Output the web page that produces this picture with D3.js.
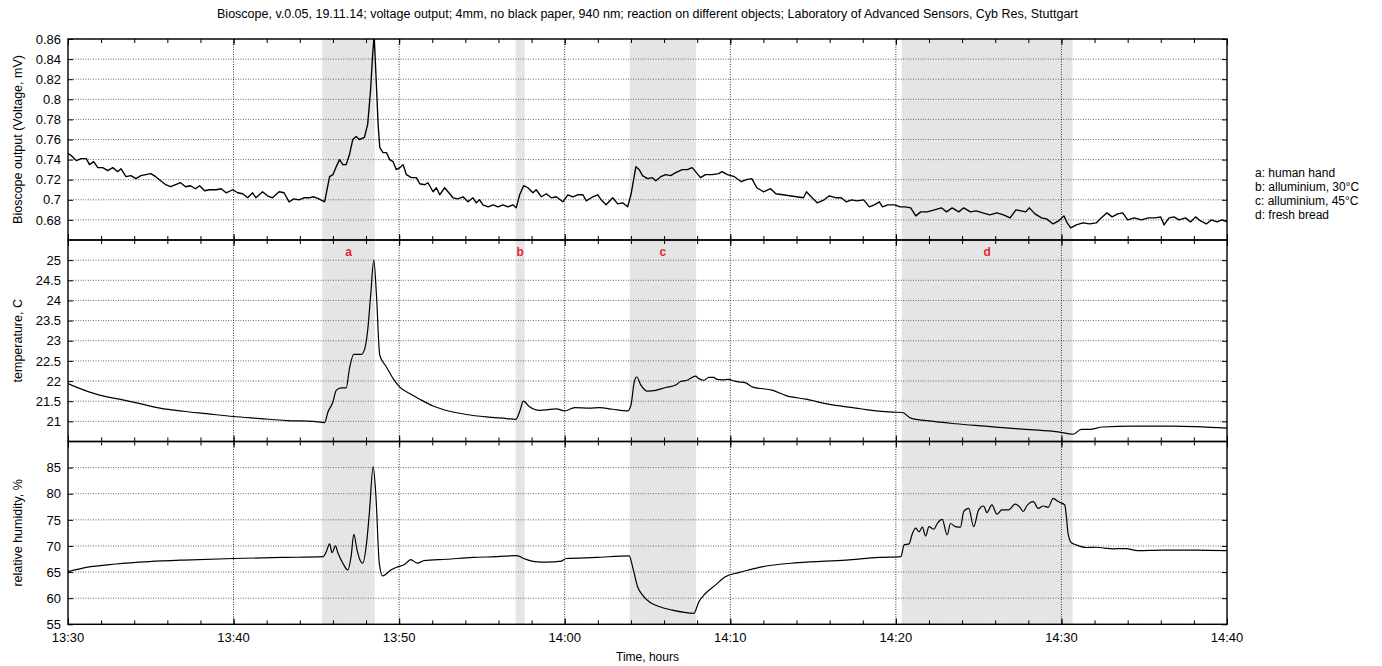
<!DOCTYPE html>
<html>
<head>
<meta charset="utf-8">
<script src="https://cdn.jsdelivr.net/npm/d3@7"></script>
<style>
    body { margin: 0; background: #fff; }
    svg { font-family: "Liberation Sans", Arial, sans-serif; }
    .domain { display: none; }
</style>
</head>
<body>
<svg id="chart" width="1382" height="666"></svg>
<script>
// readings: [minutes after 13:30, value]
const voltageReadings = [
    [0,0.746],[0.2,0.744],[0.5,0.739],[0.8,0.741],[1.1,0.741],[1.3,0.735],[1.55,0.738],[1.8,0.732],
    [2.1,0.732],[2.4,0.729],[2.7,0.732],[3.0,0.728],[3.2,0.731],[3.5,0.723],[3.8,0.724],[4.1,0.721],
    [4.4,0.724],[4.7,0.725],[5.0,0.726],[5.3,0.723],[5.6,0.719],[5.9,0.715],[6.2,0.713],[6.5,0.715],
    [6.8,0.717],[7.1,0.713],[7.4,0.714],[7.7,0.711],[7.95,0.714],[8.25,0.709],[8.55,0.710],[8.95,0.710],
    [9.25,0.711],[9.55,0.707],[9.95,0.710],[10.25,0.707],[10.55,0.706],[10.85,0.702],[11.15,0.707],
    [11.35,0.702],[11.75,0.708],[12.05,0.704],[12.35,0.702],[12.75,0.708],[13.05,0.707],[13.35,0.698],
    [13.65,0.701],[13.95,0.700],[14.25,0.702],[14.55,0.702],[14.85,0.703],[15.15,0.701],[15.5,0.698],
    [15.8,0.723],[16.0,0.725],[16.2,0.733],[16.4,0.740],[16.6,0.735],[16.8,0.735],[17.0,0.745],
    [17.2,0.760],[17.4,0.763],[17.6,0.760],[17.9,0.762],[18.1,0.775],[18.27,0.808],[18.39,0.842],
    [18.49,0.864],[18.59,0.828],[18.73,0.775],[18.83,0.752],[19.03,0.747],[19.23,0.747],[19.43,0.740],
    [19.63,0.738],[19.83,0.730],[20.04,0.732],[20.24,0.735],[20.44,0.725],[20.74,0.722],[21.04,0.722],
    [21.24,0.716],[21.54,0.715],[21.74,0.717],[22.05,0.708],[22.25,0.712],[22.45,0.705],[22.75,0.712],
    [22.95,0.708],[23.25,0.702],[23.55,0.701],[23.86,0.703],[24.16,0.698],[24.46,0.702],[24.66,0.697],
    [24.86,0.700],[25.06,0.695],[25.37,0.693],[25.67,0.695],[25.97,0.693],[26.27,0.695],[26.57,0.693],
    [26.87,0.695],[27.07,0.692],[27.28,0.705],[27.52,0.714],[27.78,0.712],[28.08,0.707],[28.28,0.710],
    [28.59,0.703],[28.89,0.706],[29.19,0.702],[29.49,0.703],[29.89,0.698],[30.19,0.705],[30.49,0.703],
    [30.79,0.705],[31.1,0.705],[31.3,0.699],[31.7,0.703],[32.0,0.705],[32.2,0.700],[32.5,0.695],
    [32.9,0.702],[33.2,0.696],[33.5,0.697],[33.8,0.693],[34.0,0.705],[34.3,0.733],[34.5,0.730],
    [34.7,0.724],[35.0,0.721],[35.3,0.722],[35.5,0.719],[35.8,0.723],[36.1,0.725],[36.4,0.724],
    [36.7,0.727],[37.1,0.730],[37.4,0.730],[37.7,0.732],[37.9,0.728],[38.2,0.722],[38.5,0.725],
    [38.9,0.725],[39.3,0.726],[39.5,0.728],[39.83,0.725],[40.25,0.723],[40.67,0.718],[40.98,0.720],
    [41.3,0.721],[41.6,0.712],[42.0,0.708],[42.44,0.711],[42.75,0.706],[43.17,0.705],[43.58,0.704],
    [44.0,0.703],[44.42,0.702],[44.6,0.708],[44.94,0.702],[45.25,0.697],[45.67,0.700],[45.98,0.704],
    [46.4,0.702],[46.7,0.702],[47.0,0.698],[47.33,0.700],[47.65,0.699],[48.06,0.700],[48.4,0.693],
    [48.7,0.695],[49.0,0.698],[49.2,0.693],[49.5,0.695],[49.94,0.695],[50.25,0.693],[50.56,0.693],
    [50.9,0.692],[51.2,0.684],[51.5,0.688],[51.9,0.688],[52.33,0.690],[52.75,0.692],[53.06,0.688],
    [53.4,0.692],[53.8,0.688],[54.1,0.692],[54.5,0.688],[54.85,0.689],[55.25,0.687],[55.67,0.685],
    [56.1,0.687],[56.5,0.685],[56.9,0.682],[57.25,0.690],[57.56,0.689],[57.85,0.688],[58.06,0.692],
    [58.4,0.686],[58.8,0.682],[59.1,0.681],[59.5,0.676],[59.83,0.679],[60.15,0.684],[60.35,0.677],
    [60.56,0.672],[60.9,0.675],[61.3,0.677],[61.7,0.676],[62.1,0.677],[62.4,0.682],[62.75,0.687],
    [63.06,0.683],[63.4,0.686],[63.7,0.687],[64.0,0.680],[64.4,0.682],[64.83,0.680],[65.25,0.682],
    [65.67,0.682],[66.0,0.683],[66.2,0.675],[66.5,0.682],[66.8,0.683],[67.1,0.680],[67.5,0.682],
    [67.8,0.678],[68.1,0.683],[68.4,0.679],[68.75,0.676],[69.06,0.680],[69.4,0.678],[69.7,0.680],[70,0.678]
];

const temperatureReadings = [
    [0,21.94],[0.5,21.85],[1.9,21.65],[3.1,21.55],[4.35,21.44],[5.55,21.33],[6.96,21.25],[8.37,21.19],
    [9.98,21.12],[11.6,21.07],[13.2,21.02],[14.8,21.0],[15.5,20.97],[15.7,21.23],[16.0,21.48],
    [16.2,21.77],[16.5,21.83],[16.8,21.83],[17.0,22.31],[17.26,22.66],[17.7,22.66],[17.92,22.8],
    [18.1,23.26],[18.28,24.13],[18.47,25.0],[18.63,24.13],[18.83,22.64],[19.23,22.35],[19.64,22.06],
    [20.04,21.85],[20.64,21.69],[21.24,21.55],[22.05,21.38],[23.05,21.25],[24.06,21.17],[25.27,21.11],
    [26.5,21.07],[27.05,21.05],[27.3,21.27],[27.5,21.5],[27.88,21.36],[28.48,21.27],[29.5,21.31],
    [30.0,21.26],[30.6,21.34],[31.5,21.33],[32.1,21.34],[32.9,21.3],[33.8,21.26],[34.0,21.4],
    [34.2,21.98],[34.35,22.1],[34.6,21.9],[35.0,21.75],[35.5,21.77],[36.1,21.84],[36.7,21.9],
    [37.0,21.99],[37.4,22.02],[37.9,22.12],[38.1,22.06],[38.4,22.02],[38.7,22.09],[39.0,22.09],
    [39.2,22.04],[39.5,22.03],[39.9,22.04],[40.3,21.99],[40.9,21.96],[41.36,21.85],[42.57,21.77],
    [43.37,21.64],[44.58,21.55],[45.99,21.42],[47.6,21.33],[48.2,21.29],[49.8,21.23],[50.4,21.22],
    [50.9,21.08],[52.0,21.01],[53.6,20.94],[55.4,20.88],[57.2,20.82],[58.6,20.78],[59.8,20.74],
    [60.7,20.68],[61.2,20.8],[61.7,20.8],[62.5,20.86],[64.3,20.88],[66.7,20.88],[70,20.83]
];

const humidityReadings = [
    [0,65.08],[1.1,65.9],[2.9,66.55],[4.9,67.0],[7.0,67.3],[10.0,67.6],[13.0,67.8],[15.4,67.95],
    [15.6,68.9],[15.8,70.4],[15.95,68.7],[16.15,70.0],[16.3,68.7],[16.6,66.7],[16.9,65.4],[17.1,68.0],
    [17.26,72.2],[17.46,69.2],[17.6,67.6],[17.8,66.7],[18.03,70.5],[18.2,76.25],[18.43,85.2],[18.6,79.4],
    [18.8,66.7],[19.0,64.25],[19.2,64.6],[19.5,65.4],[19.9,66.0],[20.3,66.4],[20.7,67.4],[21.1,66.7],
    [21.5,67.2],[22.85,67.45],[24.45,67.8],[25.9,67.95],[27.1,68.15],[27.6,67.5],[28.2,67.0],[28.9,66.9],
    [29.8,67.1],[30.1,67.6],[31.9,67.8],[33.9,68.1],[34.1,66.0],[34.4,62.2],[34.7,60.6],[35.1,59.3],
    [35.7,58.4],[36.5,57.7],[37.8,57.1],[38.1,59.3],[38.5,60.9],[39.1,62.5],[39.7,64.1],[40.5,64.9],
    [41.1,65.4],[41.9,66.0],[44.1,66.8],[47.0,67.3],[49.0,67.8],[50.3,67.95],[50.5,70.2],[50.8,70.4],
    [51.0,72.4],[51.2,73.4],[51.4,72.7],[51.6,73.6],[51.8,71.9],[52.0,73.7],[52.3,73.2],[52.5,74.3],
    [52.8,75.1],[53.1,72.1],[53.3,74.3],[53.6,73.7],[53.9,73.6],[54.1,76.6],[54.4,77.2],[54.7,73.7],
    [55.0,76.9],[55.3,77.65],[55.5,76.4],[55.8,77.85],[56.1,76.1],[56.4,76.9],[56.8,76.9],[57.2,78.0],
    [57.5,77.4],[57.7,76.6],[57.9,77.65],[58.3,78.5],[58.6,77.2],[58.9,77.65],[59.2,77.4],[59.5,79.1],
    [59.8,78.5],[60.2,77.85],[60.3,75.6],[60.4,72.4],[60.6,70.6],[60.9,70.2],[61.5,69.7],[62.1,69.75],
    [62.6,69.6],[63.1,69.45],[63.9,69.5],[64.6,69.1],[66.1,69.2],[68.1,69.2],[70,69.1]
];

// exposure windows (minutes after 13:30)
const eventLetters = ["a", "b", "c", "d"];
const eventStart = [15.35, 27.04, 33.92, 50.35];
const eventEnd = [18.53, 27.58, 37.94, 60.67];
const legendLines = ["a: human hand", "b: alluminium, 30\u00B0C", "c: alluminium, 45\u00B0C", "d: fresh bread"];

const xTickLabels = ["13:30", "13:40", "13:50", "14:00", "14:10", "14:20", "14:30", "14:40"];
const voltageTicks = [0.68, 0.7, 0.72, 0.74, 0.76, 0.78, 0.8, 0.82, 0.84, 0.86];
const temperatureTicks = [21, 21.5, 22, 22.5, 23, 23.5, 24, 24.5, 25];
const humidityTicks = [55, 60, 65, 70, 75, 80, 85];

const titleText = "Bioscope, v.0.05, 19.11.14; voltage output; 4mm, no black paper, 940 nm; reaction on different objects; Laboratory of Advanced Sensors, Cyb Res, Stuttgart";

const dims = { left: 68, right: 1227, top: 39, bottom: 624.3 };
const day = new Date(2014, 10, 19, 13, 30);
const toTime = m => new Date(day.getTime() + m * 60000);
const parseHM = s => { const p = s.split(":"); return new Date(2014, 10, 19, +p[0], +p[1]); };

const panels = [
    { top: 39, bottom: 240, domain: [0.66, 0.86], ticks: voltageTicks, data: voltageReadings,
      label: "Bioscope output (Voltage, mV)", curve: d3.curveLinear },
    { top: 240, bottom: 441.5, domain: [20.5, 25.5], ticks: temperatureTicks, data: temperatureReadings,
      label: "temperature, C", curve: d3.curveMonotoneX },
    { top: 441.5, bottom: 624.3, domain: [55, 90], ticks: humidityTicks, data: humidityReadings,
      label: "relative humidity, %", curve: d3.curveMonotoneX }
];

const svg = d3.select("#chart");
const xScale = d3.scaleTime()
    .domain([parseHM(xTickLabels[0]), parseHM(xTickLabels[xTickLabels.length - 1])])
    .range([dims.left, dims.right]);
const majorTimes = xTickLabels.map(parseHM);
const minorTimes = d3.timeMinute.every(2).range(xScale.domain()[0], d3.timeMinute.offset(xScale.domain()[1], 1));

// shaded exposure windows across all panels
svg.append("g").selectAll("rect")
    .data(eventLetters)
    .join("rect")
    .attr("x", (d, i) => xScale(toTime(eventStart[i])))
    .attr("width", (d, i) => xScale(toTime(eventEnd[i])) - xScale(toTime(eventStart[i])))
    .attr("y", dims.top)
    .attr("height", dims.bottom - dims.top)
    .attr("fill", "#e4e5e7");

panels.forEach((p, k) => {
    const y = d3.scaleLinear().domain(p.domain).range([p.bottom, p.top]);
    const g = svg.append("g");

    // dotted grid
    g.append("g").selectAll("line")
        .data(p.ticks)
        .join("line")
        .attr("x1", dims.left).attr("x2", dims.right)
        .attr("y1", d => y(d)).attr("y2", d => y(d))
        .attr("stroke", "#6a6a6a").attr("stroke-width", 1)
        .attr("stroke-dasharray", "1,1.5");
    g.append("g").selectAll("line")
        .data(majorTimes.slice(1, -1))
        .join("line")
        .attr("x1", d => xScale(d)).attr("x2", d => xScale(d))
        .attr("y1", p.top).attr("y2", p.bottom)
        .attr("stroke", "#333").attr("stroke-width", 1)
        .attr("stroke-dasharray", "1,1.5");

    // data line
    const clipId = "clip" + k;
    svg.append("clipPath").attr("id", clipId)
        .append("rect")
        .attr("x", dims.left).attr("y", p.top)
        .attr("width", dims.right - dims.left).attr("height", p.bottom - p.top);
    g.append("path")
        .datum(p.data)
        .attr("clip-path", "url(#" + clipId + ")")
        .attr("fill", "none")
        .attr("stroke", "#000")
        .attr("stroke-width", k === 0 ? 1.35 : 1.2)
        .attr("stroke-linejoin", "round")
        .attr("d", d3.line()
            .curve(p.curve)
            .x(d => xScale(toTime(d[0])))
            .y(d => y(d[1])));

    // y axes, ticks inward on both sides
    const yLeft = g.append("g")
        .attr("transform", "translate(" + dims.left + ",0)")
        .call(d3.axisLeft(y).tickValues(p.ticks).tickSize(-5).tickPadding(7).tickFormat(d => String(d)));
    yLeft.selectAll("text").style("font-size", "13px").attr("fill", "#000");
    g.append("g")
        .attr("transform", "translate(" + dims.right + ",0)")
        .call(d3.axisRight(y).tickValues(p.ticks).tickSize(-5).tickFormat(""));

    // x ticks inward on top and bottom of each panel
    [[d3.axisTop, p.top], [d3.axisBottom, p.bottom]].forEach(([axis, pos]) => {
        g.append("g")
            .attr("transform", "translate(0," + pos + ")")
            .call(axis(xScale).tickValues(minorTimes).tickSize(-4).tickFormat(""));
        g.append("g")
            .attr("transform", "translate(0," + pos + ")")
            .call(axis(xScale).tickValues(majorTimes).tickSize(-6).tickFormat(""));
    });

    // frame
    g.append("rect")
        .attr("x", dims.left).attr("y", p.top)
        .attr("width", dims.right - dims.left).attr("height", p.bottom - p.top)
        .attr("fill", "none").attr("stroke", "#000").attr("stroke-width", 1.4);

    svg.append("text")
        .attr("transform", "translate(22," + ((p.top + p.bottom) / 2) + ") rotate(-90)")
        .attr("text-anchor", "middle")
        .style("font-size", "12.5px")
        .text(p.label);
});

svg.selectAll(".tick line").attr("stroke", "#000");

// time labels under the bottom panel
svg.append("g").selectAll("text")
    .data(xTickLabels)
    .join("text")
    .attr("x", d => xScale(parseHM(d)))
    .attr("y", 642)
    .attr("text-anchor", "middle")
    .style("font-size", "13px")
    .text(d => d);

svg.append("text")
    .attr("x", (dims.left + dims.right) / 2).attr("y", 661)
    .attr("text-anchor", "middle")
    .style("font-size", "12px")
    .text("Time, hours");

svg.append("text")
    .attr("x", (dims.left + dims.right) / 2).attr("y", 18)
    .attr("text-anchor", "middle")
    .style("font-size", "12.5px")
    .text(titleText);

// event letters
svg.append("g").selectAll("text")
    .data(eventLetters)
    .join("text")
    .attr("x", (d, i) => xScale(toTime((eventStart[i] + eventEnd[i]) / 2)))
    .attr("y", 256)
    .attr("text-anchor", "middle")
    .attr("fill", "#e8262d")
    .style("font-size", "12px")
    .style("font-weight", "bold")
    .text(d => d);

// legend
svg.append("g").selectAll("text")
    .data(legendLines)
    .join("text")
    .attr("x", 1255)
    .attr("y", (d, i) => 177 + i * 14)
    .style("font-size", "12px")
    .text(d => d);
</script>
</body>
</html>
